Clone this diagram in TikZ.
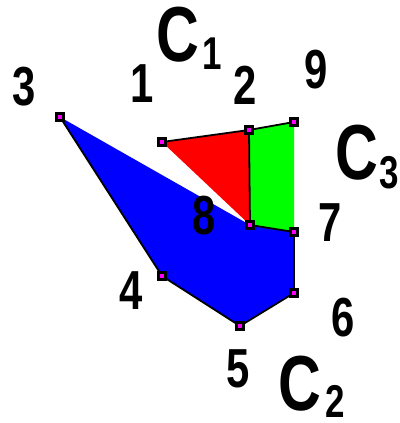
\documentclass[tikz,border=0pt]{standalone}
\usepackage{fontspec}
\newfontfamily\labfont[FakeStretch=0.76]{Liberation Sans Bold}
\usetikzlibrary{positioning}
\definecolor{PolyBlue}{RGB}{0,0,255}
\definecolor{PolyRed}{RGB}{255,0,0}
\definecolor{PolyGreen}{RGB}{0,255,0}
\definecolor{VtxPink}{RGB}{255,0,255}
\pgfdeclarelayer{background}
\pgfsetlayers{background,main}

\begin{document}
\begin{tikzpicture}[x=1pt, y=-1pt,
    vtx/.style={rectangle, draw=black, fill=VtxPink, line width=3pt, minimum size=6.5pt, inner sep=0pt},
    edge/.style={line width=1.8pt, draw=black},
    num/.style={inner sep=0pt, font=\labfont\fontsize{55}{55}\selectfont},
    cname/.style={inner sep=0pt, font=\labfont\fontsize{78}{78}\selectfont},
    csub/.style={inner sep=0pt, font=\labfont\fontsize{46}{46}\selectfont}
  ]
    \useasboundingbox (0,0) rectangle (399,423);
    % vertices
    \node[vtx] (p1) at (162,142) {};
    \node[vtx] (p2) at (249,130) {};
    \node[vtx] (p3) at (60,117) {};
    \node[vtx] (p4) at (162,276) {};
    \node[vtx] (p5) at (240,326) {};
    \node[vtx] (p6) at (294,293) {};
    \node[vtx] (p7) at (294,232) {};
    \node[vtx] (p8) at (250,225) {};
    \node[vtx] (p9) at (294,122) {};
    \begin{pgfonlayer}{background}
      \fill[PolyBlue] (p3.center) -- (p8.center) -- (p7.center) -- (p6.center) -- (p5.center) -- (p4.center) -- cycle;
      \fill[PolyRed] (p1.center) -- (p2.center) -- (p8.center) -- cycle;
      \fill[PolyGreen] (p2.center) -- (p9.center) -- (p7.center) -- (p8.center) -- cycle;
      \draw[edge] (p1) -- (p2) -- (p9);
      \draw[edge] (p2) -- (p8) -- (p7) -- (p6) -- (p5) -- (p4) -- (p3);
    \end{pgfonlayer}
    % vertex numbers
    \node[num] (n1) at (142,84) {1};
    \node[num] (n2) at (245,85) {2};
    \node[num] (n3) at (24,87) {3};
    \node[num] (n4) at (131,291) {4};
    \node[num] (n5) at (238,369) {5};
    \node[num] (n6) at (343,318) {6};
    \node[num] (n7) at (330,223) {7};
    \node[num] (n8) at (204,216) {8};
    \node[num] (n9) at (316,70) {9};
    % chain names
    \node[cname] (c1) at (178,35) {C};
    \node[csub] (s1) at (212,54) {1};
    \node[cname] (c2) at (300,384) {C};
    \node[csub] (s2) at (335,401) {2};
    \node[cname] (c3) at (357,153) {C};
    \node[csub] (s3) at (389,173) {3};
\end{tikzpicture}
\end{document}
